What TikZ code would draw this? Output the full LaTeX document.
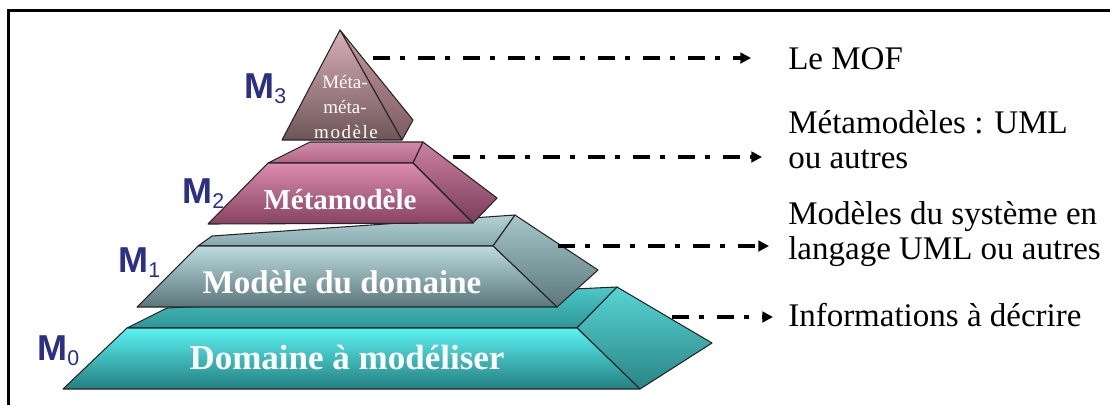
\documentclass[tikz,border=0pt]{standalone}
\usepackage{fontspec}
\setmainfont{Liberation Serif}
\newfontfamily\labelfont{Liberation Sans}
\usetikzlibrary{arrows.meta}

\definecolor{navy}{HTML}{2B2F86}
\definecolor{edgecol}{HTML}{262626}
% level M0 (cyan)
\definecolor{czeroFrontTop}{HTML}{5CF2F2}
\definecolor{czeroFrontBot}{HTML}{247F80}
\definecolor{czeroTopTop}{HTML}{4CC8C8}
\definecolor{czeroTopBot}{HTML}{2E9696}
\definecolor{czeroSideTop}{HTML}{58D4D4}
\definecolor{czeroSideBot}{HTML}{2A8484}
% level M1 (blue grey)
\definecolor{coneFrontTop}{HTML}{BCDCE0}
\definecolor{coneFrontBot}{HTML}{5A767A}
\definecolor{coneTopTop}{HTML}{B4D2D6}
\definecolor{coneTopBot}{HTML}{86A8AC}
\definecolor{coneSideTop}{HTML}{A6C6CA}
\definecolor{coneSideBot}{HTML}{5C787C}
% level M2 (pink)
\definecolor{ctwoFrontTop}{HTML}{DC8CB0}
\definecolor{ctwoFrontBot}{HTML}{86435F}
\definecolor{ctwoTopTop}{HTML}{D28CAA}
\definecolor{ctwoTopBot}{HTML}{B06684}
\definecolor{ctwoSideTop}{HTML}{CC80A0}
\definecolor{ctwoSideBot}{HTML}{7A3E5A}
% level M3 (mauve)
\definecolor{cthreeFrontTop}{HTML}{D8B0B8}
\definecolor{cthreeFrontBot}{HTML}{6E5558}
\definecolor{cthreeSideTop}{HTML}{C8989F}
\definecolor{cthreeSideBot}{HTML}{7C5C63}

\begin{document}
\begin{tikzpicture}[x=0.75pt,y=-0.75pt,
  face/.style={draw=edgecol, line width=0.8pt, line join=round},
  tiertext/.style={text=white, inner sep=0pt, anchor=base},
  apextext/.style={text=white!92!pink, inner sep=0pt, anchor=base,
                   font=\fontsize{14.25}{15}\selectfont},
  levellabel/.style={text=navy, inner sep=0pt, anchor=base west},
  note/.style={font=\fontsize{24.75}{30}\selectfont, inner sep=0pt,
               anchor=base west, text=black},
  flow/.style={line width=3pt, line cap=butt,
               dash pattern=on 12.75pt off 7.5pt on 3.75pt off 9.75pt,
               -{Triangle[length=8pt,width=8pt]}},
]
\useasboundingbox (0,0) rectangle (1110,405);
\fill[white] (0,0) rectangle (1110,405);

% frame (top and left sides only)
\draw[line width=2.25pt, line join=miter] (8,405) -- (8,10.5) -- (1110,10.5);

% ---------- level M0 ----------
\path[face, top color=czeroTopTop, bottom color=czeroTopBot]
  (127,328) -- (167,308) -- (617,287) -- (577,328) -- cycle;
\path[face, top color=czeroSideTop, bottom color=czeroSideBot]
  (617,287) -- (712,343) -- (640,389) -- (577,328) -- cycle;
\path[face, top color=czeroFrontTop, bottom color=czeroFrontBot]
  (127,328) -- (577,328) -- (640,389) -- (63,389) -- cycle;

% ---------- level M1 ----------
\path[face, top color=coneTopTop, bottom color=coneTopBot]
  (198,246) -- (212,236) -- (515,215) -- (493,246) -- cycle;
\path[face, top color=coneSideTop, bottom color=coneSideBot]
  (515,215) -- (598,270) -- (557,307) -- (493,246) -- cycle;
\path[face, top color=coneFrontTop, bottom color=coneFrontBot]
  (198,246) -- (493,246) -- (557,307) -- (137,307) -- cycle;

% ---------- level M2 ----------
\path[face, top color=ctwoTopTop, bottom color=ctwoTopBot]
  (268,163) -- (310,142) -- (423,142) -- (413,163) -- cycle;
\path[face, top color=ctwoSideTop, bottom color=ctwoSideBot]
  (423,142) -- (497,198) -- (473,223) -- (413,163) -- cycle;
\path[face, top color=ctwoFrontTop, bottom color=ctwoFrontBot]
  (268,163) -- (413,163) -- (473,223) -- (208,224) -- cycle;

% ---------- level M3 (apex) ----------
\path[face, top color=cthreeSideTop, bottom color=cthreeSideBot]
  (340,30) -- (413,120) -- (402,140) -- cycle;
\path[face, top color=cthreeFrontTop, bottom color=cthreeFrontBot]
  (340,30) -- (402,140) -- (282,140) -- cycle;

% ---------- texts on the levels ----------
\node[apextext] (a1) at (345,88) {Méta-};
\node[apextext] (a2) at (345,113) {méta-};
\node[apextext, font=\fontsize{14.25}{15}\selectfont\addfontfeature{LetterSpace=8}] (a3) at (346,138) {modèle};
\node[tiertext, font=\bfseries\fontsize{21.75}{22}\selectfont] (t2) at (340,209) {Métamodèle};
\node[tiertext, font=\bfseries\fontsize{24.75}{25}\selectfont] (t1) at (342,293) {Modèle du domaine};
\node[tiertext, font=\bfseries\fontsize{26.25}{26}\selectfont] (t0) at (347,369) {Domaine à modéliser};

% ---------- level labels ----------
\newcommand{\levelname}[1]{{\labelfont\bfseries\fontsize{27}{27}\selectfont M}\raisebox{-3.75pt}{\labelfont\fontsize{16}{16}\selectfont #1}}
\node[levellabel] (m3) at (244,98) {\levelname{3}};
\node[levellabel] (m2) at (182,203) {\levelname{2}};
\node[levellabel] (m1) at (118,272) {\levelname{1}};
\node[levellabel] (m0) at (37,360) {\levelname{0}};

% ---------- descriptions ----------
\node[note] (mof) at (788,69) {Le MOF};
\node[note] (mma) at (788,133) {Métamodèles : UML};
\node[note] (mmb) at (788,168) {ou autres};
\node[note] (mda) at (788,224) {Modèles du système en};
\node[note] (mdb) at (788,259) {langage UML ou autres};
\node[note] (inf) at (788,326) {Informations à décrire};

% ---------- arrows ----------
\coordinate (s3) at (373,58);
\coordinate (s2) at (453,157);
\coordinate (s1) at (558,246);
\coordinate (s0) at (672,317);
\draw[flow, shorten >=27.75pt] (s3) -- (s3 -| mof.west);
\draw[flow, shorten >=19.5pt] (s2) -- (s2 -| mmb.west);
\draw[flow, shorten >=14.25pt] (s1) -- (s1 -| mdb.west);
\draw[flow, shorten >=11.25pt] (s0) -- (s0 -| inf.west);
\end{tikzpicture}
\end{document}
